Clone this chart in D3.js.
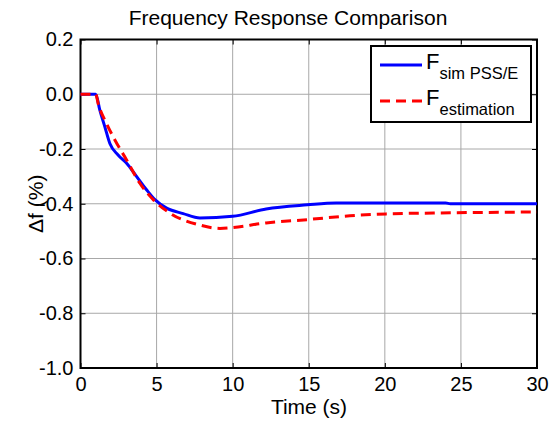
<!DOCTYPE html>
<html>
<head>
<meta charset="utf-8">
<script src="https://cdn.jsdelivr.net/npm/d3@7"></script>
<style>
  body { margin: 0; background: #fff; }
  svg { display: block; font-family: "Liberation Sans", Arial, sans-serif; }
</style>
</head>
<body>
<div id="chart"></div>
<script>
// series
const simTime = [0, 1.0, 1.27, 1.6, 1.93, 2.47, 3.03, 3.68, 4.34, 4.89, 5.66, 6.75, 7.85, 10.0, 12.2, 14.9, 16.8, 24.0, 24.3, 30];
const simValues = [0, 0, -0.058, -0.119, -0.18, -0.222, -0.252, -0.30, -0.349, -0.385, -0.416, -0.436, -0.452, -0.446, -0.419, -0.404, -0.397, -0.397, -0.40, -0.40];

const estTime = [0, 1.0, 1.16, 1.71, 2.26, 3.03, 3.9, 4.78, 5.87, 7.85, 9.16, 10.0, 12.2, 14.9, 17.7, 20.1, 23.2, 30];
const estValues = [0, 0, -0.034, -0.107, -0.167, -0.24, -0.325, -0.385, -0.434, -0.478, -0.490, -0.487, -0.47, -0.458, -0.444, -0.437, -0.434, -0.43];

const xTicks = [0, 5, 10, 15, 20, 25, 30];
const yTicks = [0.2, 0, -0.2, -0.4, -0.6, -0.8, -1.0];

const W = 552, H = 423;
const pL = 80.5, pR = 537, pT = 39.5, pB = 368;

const svg = d3.select('#chart').append('svg')
    .attr('width', W)
    .attr('height', H);

const x = d3.scaleLinear().domain([0, 30]).range([pL, pR]);
const y = d3.scaleLinear().domain([-1.0, 0.2]).range([pB, pT]);

// grid
svg.append('g').selectAll('line')
    .data(xTicks.slice(1, -1))
    .enter().append('line')
    .attr('x1', d => x(d)).attr('x2', d => x(d))
    .attr('y1', pT).attr('y2', pB)
    .attr('stroke', '#a8a8a8').attr('stroke-width', 1);
svg.append('g').selectAll('line')
    .data(yTicks.slice(1, -1))
    .enter().append('line')
    .attr('x1', pL).attr('x2', pR)
    .attr('y1', d => y(d)).attr('y2', d => y(d))
    .attr('stroke', '#a8a8a8').attr('stroke-width', 1);

// axes, ticks inside on all four sides
const bottomAxis = d3.axisBottom(x).tickValues(xTicks).tickSize(-5).tickPadding(9).tickFormat(d => String(d));
const topAxis = d3.axisTop(x).tickValues(xTicks).tickSize(-5).tickFormat('');
const leftAxis = d3.axisLeft(y).tickValues(yTicks).tickSize(-5).tickPadding(7).tickFormat(d => d.toFixed(1));
const rightAxis = d3.axisRight(y).tickValues(yTicks).tickSize(-5).tickFormat('');

svg.append('g').attr('transform', `translate(0,${pB})`).call(bottomAxis);
svg.append('g').attr('transform', `translate(0,${pT})`).call(topAxis);
svg.append('g').attr('transform', `translate(${pL},0)`).call(leftAxis);
svg.append('g').attr('transform', `translate(${pR},0)`).call(rightAxis);

svg.selectAll('.domain').remove();
svg.selectAll('.tick line').attr('stroke', '#000').attr('stroke-width', 1);
svg.selectAll('.tick text').attr('fill', '#000').style('font-size', '20px');

svg.append('rect')
    .attr('x', pL).attr('y', pT)
    .attr('width', pR - pL).attr('height', pB - pT)
    .attr('fill', 'none').attr('stroke', '#000').attr('stroke-width', 2);

// lines
const line = d3.line()
    .x(d => x(d[0]))
    .y(d => y(d[1]))
    .curve(d3.curveMonotoneX);

svg.append('path')
    .datum(simTime.map((t, i) => [t, simValues[i]]))
    .attr('d', line)
    .attr('fill', 'none').attr('stroke', '#0000ff').attr('stroke-width', 3);

svg.append('path')
    .datum(estTime.map((t, i) => [t, estValues[i]]))
    .attr('d', line)
    .attr('fill', 'none').attr('stroke', '#ff0000').attr('stroke-width', 3)
    .attr('stroke-dasharray', '10,6');

// title and labels
svg.append('text')
    .attr('x', 288).attr('y', 25)
    .attr('text-anchor', 'middle')
    .style('font-size', '21px')
    .text('Frequency Response Comparison');

svg.append('text')
    .attr('x', 309).attr('y', 414)
    .attr('text-anchor', 'middle')
    .style('font-size', '21px')
    .text('Time (s)');

svg.append('text')
    .attr('transform', `translate(43,${(pT + pB) / 2}) rotate(-90)`)
    .attr('text-anchor', 'middle')
    .style('font-size', '21px')
    .text('\u0394f (%)');

// legend
const lg = svg.append('g');
lg.append('rect')
    .attr('x', 371).attr('y', 46)
    .attr('width', 160).attr('height', 76)
    .attr('fill', '#fff').attr('stroke', '#000').attr('stroke-width', 2);

const legendItems = [
    { sub: 'sim PSS/E', color: '#0000ff', dash: null, yy: 65 },
    { sub: 'estimation', color: '#ff0000', dash: '10,6', yy: 101 }
];
legendItems.forEach(it => {
    lg.append('line')
        .attr('x1', 380).attr('x2', 422)
        .attr('y1', it.yy).attr('y2', it.yy)
        .attr('stroke', it.color).attr('stroke-width', 3)
        .attr('stroke-dasharray', it.dash);
    const t = lg.append('text')
        .attr('x', 426).attr('y', it.yy + 4)
        .style('font-size', '22px');
    t.append('tspan').text('F');
    t.append('tspan').attr('dy', 10).style('font-size', '16.5px').text(it.sub);
});
</script>
</body>
</html>
